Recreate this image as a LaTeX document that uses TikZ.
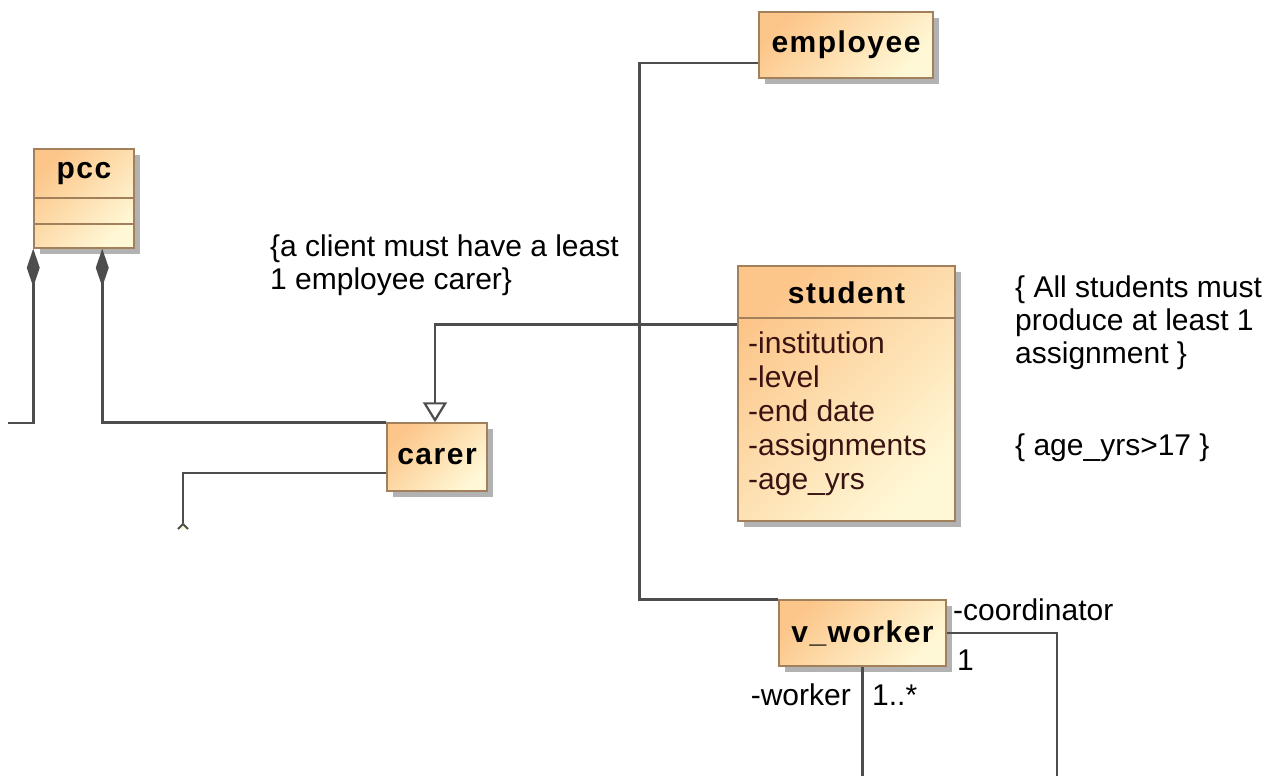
\documentclass[tikz,border=0pt]{standalone}
\usepackage{fontspec}
\setmainfont{Liberation Sans}
\newfontfamily\headfont[LetterSpace=5]{Liberation Sans}
\usetikzlibrary{shadows,arrows.meta}

\definecolor{boxline}{HTML}{A3805C}
\definecolor{fillA}{HTML}{FCC68A}
\definecolor{fillB}{HTML}{FFF8D6}
\definecolor{wire}{HTML}{4D4D4D}
\definecolor{attrtext}{HTML}{3A1212}

\tikzset{
  classbox/.style={draw=boxline, line width=1.5pt, inner sep=0pt,
    top color=fillA, bottom color=fillB, shading angle=45,
    drop shadow={shadow xshift=6pt, shadow yshift=-6pt, fill=black!30, opacity=1}},
  headtext/.style={font=\headfont\bfseries\fontsize{30}{34}\selectfont, inner sep=0pt},
  plaintext/.style={font=\fontsize{30}{34}\selectfont, inner sep=0pt, anchor=base west},
  attr/.style={plaintext, text=attrtext},
  wireline/.style={draw=wire, line width=2.8pt},
  composite/.style={wireline, {Diamond[width=13pt,length=38pt,fill=wire]}-},
  generalise/.style={wireline, -{Triangle[width=24pt,length=20pt,fill=white,line width=2.2pt]}},
}

\begin{document}
\begin{tikzpicture}[x=1pt,y=-1pt]
\path[use as bounding box] (0,0) rectangle (1276,776);

% class boxes
\node[classbox, minimum width=174pt, minimum height=66pt] (employee) at (846,45) {};
\node[headtext] (employeeT) at (employee.center) {employee};

\node[classbox, minimum width=100pt, minimum height=99pt] (pcc) at (84,198.5) {};
\draw[boxline, line width=1.5pt] (34,198) -- (134,198) (34,224) -- (134,224);
\node[headtext] (pccT) at (84,174) {pcc};

\node[classbox, minimum width=100pt, minimum height=68pt] (carer) at (437,457) {};
\node[headtext] (carerT) at (carer.center) {carer};

\node[classbox, minimum width=217pt, minimum height=255pt] (student) at (846.5,393.5) {};
\draw[boxline, line width=1.5pt] (738,318) -- (955,318);
\node[headtext] (studentT) at (846.5,293) {student};
\node[attr] (a1) at (748,353) {-institution};
\node[attr] (a2) at (748,387) {-level};
\node[attr] (a3) at (748,421) {-end date};
\node[attr] (a4) at (748,455) {-assignments};
\node[attr] (a5) at (748,489) {-age\_yrs};

\node[classbox, minimum width=167pt, minimum height=66pt] (vworker) at (862.5,633) {};
\node[headtext] (vworkerT) at (vworker.center) {v\_worker};

% free ends of connectors
\coordinate (leftend) at (8,423);
\coordinate (lowend) at (183,523);
\coordinate (workerend) at (862,776);
\coordinate (coordend) at (1057,776);

% connectors
\draw[wireline] ([yshift=-18pt]employee.west) -- ++(-119,0) |- (vworker.north west);
\draw[generalise] ([yshift=-59pt]student.north west) -| ([xshift=-2pt]carer.north);
\draw[composite] (pcc.south west) |- (leftend);
\draw[composite] ([xshift=69pt]pcc.south west) |- (carer.north west);
\draw[wireline] ([yshift=-16pt]carer.west) -| (lowend);
\fill[fillB] (178,529) -- (183,524) -- (188,529) -- cycle;
\draw[wire, line width=2pt] (178,529) -- (183,524) -- (188,529);
\draw[wireline] (vworker.south) -- (vworker.south |- workerend);
\draw[wireline] (vworker.east) -| (coordend);

% role names and multiplicities
\node[plaintext] (coordL) at (953,620) {-coordinator};
\node[plaintext] (coordM) at (957,670) {1};
\node[plaintext, anchor=base east] (workerL) at (851,705) {-worker};
\node[plaintext] (workerM) at (872,705) {1..*};

% constraints
\node[plaintext] (c1a) at (270,256) {\{a client must have a least};
\node[plaintext] (c1b) at (270,289) {1 employee carer\}};
\node[plaintext] (c2a) at (1015,297) {\{ All students must};
\node[plaintext] (c2b) at (1015,330) {produce at least 1};
\node[plaintext] (c2c) at (1015,363) {assignment \}};
\node[plaintext] (c3) at (1015,455) {\{ age\_yrs>17 \}};
\end{tikzpicture}
\end{document}
